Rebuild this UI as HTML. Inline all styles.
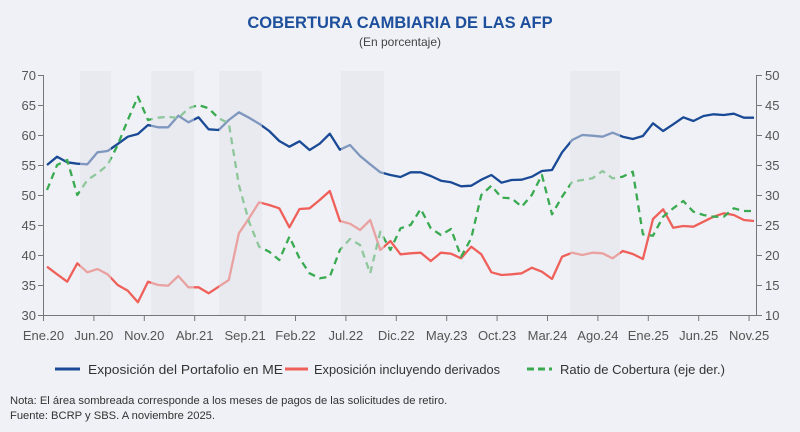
<!DOCTYPE html>
<html><head><meta charset="utf-8"><style>
body{margin:0;background:#eff1f7;}
svg{display:block;font-family:"Liberation Sans",sans-serif;}
</style></head><body>
<svg id="c" width="800" height="432" viewBox="0 0 800 432">
<rect width="800" height="432" fill="#eff1f7"/>
<text x="400" y="28" text-anchor="middle" font-size="16.5" font-weight="bold" fill="#1d4f9c">COBERTURA CAMBIARIA DE LAS AFP</text>
<text x="400" y="46" text-anchor="middle" font-size="12" fill="#444">(En porcentaje)</text>
<g id="lines"></g>
<g fill="#e4e4e8" opacity="0.5">
<rect x="80" y="71" width="31" height="244"/>
<rect x="151" y="71" width="43" height="244"/>
<rect x="219" y="71" width="43" height="244"/>
<rect x="341" y="71" width="43" height="244"/>
<rect x="570" y="71" width="50" height="244"/>
</g>
<g stroke="#777" stroke-width="1" fill="none">
<line x1="43.5" y1="75" x2="43.5" y2="315"/>
<line x1="756.5" y1="75" x2="756.5" y2="315"/>
<line x1="43" y1="315.5" x2="757" y2="315.5"/>
</g>
<g id="ticks" stroke="#777" stroke-width="1"></g>
<g id="labels" font-size="13" fill="#555"></g>
<g font-size="13.2" fill="#333">
<line x1="55" y1="369" x2="80" y2="369" stroke="#1a4a96" stroke-width="3"/>
<text x="88" y="374" textLength="195" lengthAdjust="spacingAndGlyphs">Exposición del Portafolio en ME</text>
<line x1="285" y1="369" x2="308" y2="369" stroke="#f0605a" stroke-width="3"/>
<text x="314" y="374" textLength="186" lengthAdjust="spacingAndGlyphs">Exposición incluyendo derivados</text>
<line x1="527" y1="369" x2="552" y2="369" stroke="#3aaa50" stroke-width="3" stroke-dasharray="7,4"/>
<text x="560" y="374" textLength="165" lengthAdjust="spacingAndGlyphs">Ratio de Cobertura (eje der.)</text>
</g>
<text x="10" y="404" font-size="11.2" fill="#333">Nota: El área sombreada corresponde a los meses de pagos de las solicitudes de retiro.</text>
<text x="10" y="419" font-size="11.2" fill="#333">Fuente: BCRP y SBS. A noviembre 2025.</text>
</svg>
<script>
var blue=[300,275,292,296,298,262,258,237,215,207,180,187,187,152,172,157,193,195,165,142,158,176,198,228,245,229,255,236,206,254,240,273,298,322,330,336,322,
322,333,347,352,364,362,344,330,353,345,344,335,318,315,262,225,210,212,215,203,215,222,213,175,198,178,157,168,153,148,150,146,158,158];
var red=[605,628,650,595,622,612,628,660,677,712,650,660,662,633,667,667,685,665,645,505,460,412,420,430,487,432,430,405,378,468,476,495,465,555,528,568,565,
563,588,563,566,580,545,568,622,630,628,625,608,620,642,575,563,570,563,565,580,558,567,582,462,433,488,483,485,470,455,445,450,465,468];
var green=[375,300,285,390,345,325,300,240,165,95,165,158,155,160,130,120,130,160,175,360,470,545,560,585,515,580,625,640,635,555,522,540,625,500,555,490,480,
432,490,510,492,575,520,390,362,398,400,425,390,330,448,395,350,345,340,318,340,335,320,508,512,455,430,408,440,450,455,455,430,438,438];
function pts(a){return a.map(function(v,i){return (47+10.1*i).toFixed(1)+","+(65+v/3).toFixed(1)}).join(" ");}
var ns="http://www.w3.org/2000/svg",g=document.getElementById("lines");
function pl(a,c,d){var p=document.createElementNS(ns,"polyline");p.setAttribute("points",pts(a));p.setAttribute("fill","none");p.setAttribute("stroke",c);p.setAttribute("stroke-width","2.3");p.setAttribute("stroke-linejoin","round");if(d)p.setAttribute("stroke-dasharray",d);g.appendChild(p);}
pl(red,"#f0605a");pl(blue,"#1a4a96");pl(green,"#3aaa50","7,5");
var t=document.getElementById("ticks"),L=document.getElementById("labels");
function el(n,at,txt,par){var e=document.createElementNS(ns,n);for(var k in at)e.setAttribute(k,at[k]);if(txt)e.textContent=txt;par.appendChild(e);}
for(var i=0;i<=8;i++){var y=75+30*i;
el("line",{x1:38,y1:y+.5,x2:43,y2:y+.5},null,t);el("line",{x1:757,y1:y+.5,x2:762,y2:y+.5},null,t);
el("text",{x:36,y:y+5,"text-anchor":"end"},String(70-5*i),L);el("text",{x:765,y:y+5},String(50-5*i),L);}
var xl=["Ene.20","Jun.20","Nov.20","Abr.21","Sep.21","Feb.22","Jul.22","Dic.22","May.23","Oct.23","Mar.24","Ago.24","Ene.25","Jun.25","Nov.25"];
for(var j=0;j<15;j++){var x=43.5+50.4*j;el("line",{x1:x,y1:315,x2:x,y2:321},null,t);
el("text",{x:x,y:340,"text-anchor":"middle"},xl[j],L);}
</script>
</body></html>
